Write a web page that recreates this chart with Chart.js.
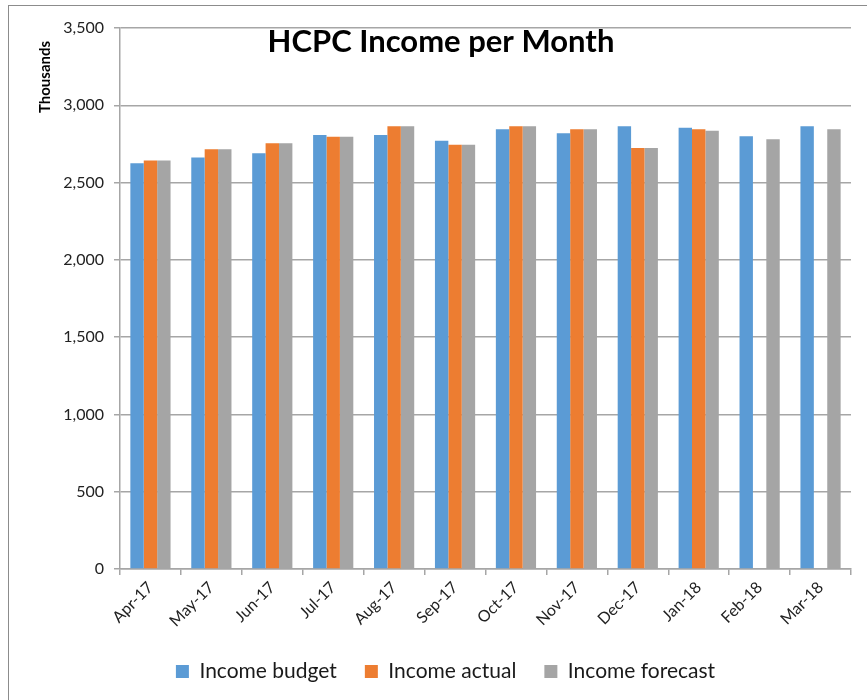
<!DOCTYPE html>
<html>
<head>
<meta charset="utf-8">
<script src="https://cdn.jsdelivr.net/npm/chart.js@4.4.0/dist/chart.umd.min.js"></script>
<style>
  html, body { margin: 0; padding: 0; background: #fff; overflow: hidden; }
  #wrap { position: relative; width: 867px; height: 700px; }
  #frame { position: absolute; left: 8px; top: 5px; width: 900px; height: 800px;
           border: 1.5px solid #8c8c8c; box-sizing: border-box; }
  canvas { position: absolute; left: 0; top: 0; }
</style>
</head>
<body>
<div id="wrap">
  <div id="frame"></div>
  <canvas id="chart" width="867" height="700"></canvas>
</div>
<script>
const months = ['Apr-17', 'May-17', 'Jun-17', 'Jul-17', 'Aug-17', 'Sep-17',
                'Oct-17', 'Nov-17', 'Dec-17', 'Jan-18', 'Feb-18', 'Mar-18'];
const incomeBudget = [2625, 2662, 2690, 2808, 2808, 2771, 2845, 2819, 2864, 2855, 2800, 2864];
const incomeActual = [2642, 2716, 2755, 2797, 2864, 2744, 2864, 2845, 2724, 2845, null, null];
const incomeForecast = [2642, 2716, 2755, 2797, 2864, 2744, 2864, 2845, 2724, 2836, 2780, 2845];

const FONT = 'Lato, Carlito, Calibri, sans-serif';
const gridGrey = '#a6a6a6';

// title and the "Thousands" label sit inside the plot like in the Excel chart
const overlayText = {
    id: 'overlayText',
    afterDraw(chart) {
        const ctx = chart.ctx;
        ctx.save();
        ctx.fillStyle = '#000';
        ctx.font = 'bold 31px ' + FONT;
        ctx.textAlign = 'center';
        ctx.textBaseline = 'alphabetic';
        ctx.fillText('HCPC Income per Month', 441, 52);

        ctx.translate(50, 77);
        ctx.rotate(-Math.PI / 2);
        ctx.font = 'bold 15px ' + FONT;
        ctx.fillText('Thousands', 0, 0);
        ctx.restore();
    }
};

new Chart(document.getElementById('chart'), {
    type: 'bar',
    data: {
        labels: months,
        datasets: [
            { label: 'Income budget', data: incomeBudget, backgroundColor: '#5b9bd5' },
            { label: 'Income actual', data: incomeActual, backgroundColor: '#ed7d31' },
            { label: 'Income forecast', data: incomeForecast, backgroundColor: '#a5a5a5' },
        ],
    },
    options: {
        responsive: false,
        animation: false,
        // left padding only nudges the legend to the right, the y axis width makes up the rest
        layout: { padding: { left: 40, right: 16, top: 28, bottom: 8 } },
        datasets: { bar: { barPercentage: 1, categoryPercentage: 0.66 } },
        plugins: {
            title: { display: false },
            tooltip: { enabled: false },
            legend: {
                position: 'bottom',
                labels: {
                    boxWidth: 13,
                    boxHeight: 13,
                    padding: 28,
                    color: '#1a1a1a',
                    font: { family: FONT, size: 21 },
                },
            },
        },
        scales: {
            x: {
                grid: { drawOnChartArea: false, offset: true, tickLength: 6, color: gridGrey, lineWidth: 1.5 },
                border: { color: gridGrey, width: 1.5 },
                ticks: { maxRotation: 45, minRotation: 45, color: '#222', font: { family: FONT, size: 16 } },
                afterFit(scale) { scale.height = 64; },
            },
            y: {
                min: 0,
                max: 3500,
                ticks: { stepSize: 500, color: '#222', padding: 10, font: { family: FONT, size: 16 } },
                grid: { color: gridGrey, lineWidth: 1.5, tickLength: 6 },
                border: { color: gridGrey, width: 1.5 },
                afterFit(scale) { scale.width = 80; },
            },
        },
    },
    plugins: [overlayText],
});
</script>
</body>
</html>
